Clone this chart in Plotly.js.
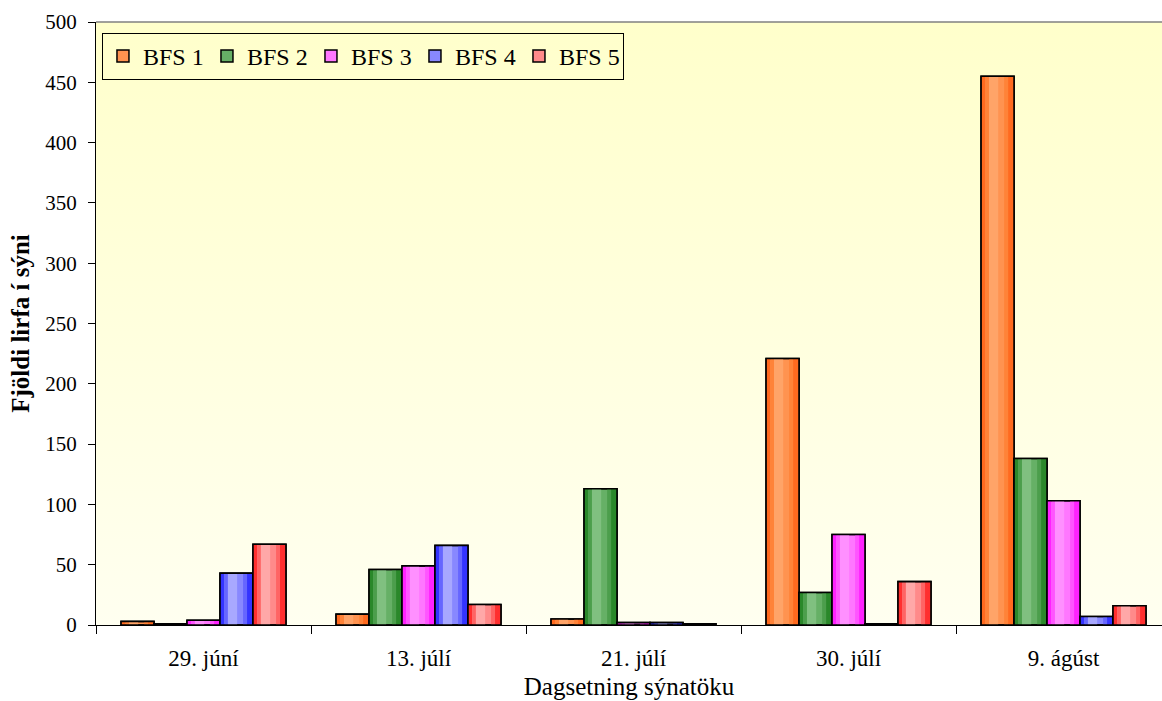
<!DOCTYPE html>
<html>
<head>
<meta charset="utf-8">
<script src="https://cdn.plot.ly/plotly-3.0.1.min.js"></script>
<style>html,body{margin:0;padding:0;background:#fff}#chart{width:1162px;height:701px}</style>
</head>
<body>
<div id="chart"></div>
<script>
// ---- data ----
const categories = ['29. júní', '13. júlí', '21. júlí', '30. júlí', '9. ágúst'];
const seriesNames = ['BFS 1', 'BFS 2', 'BFS 3', 'BFS 4', 'BFS 5'];
const bfs1 = [3, 9, 5, 221, 455];
const bfs2 = [1, 46, 113, 27, 138];
const bfs3 = [4, 49, 2, 75, 103];
const bfs4 = [43, 66, 2, 1, 7];
const bfs5 = [67, 17, 1, 36, 16];
const yTickVals = [0, 50, 100, 150, 200, 250, 300, 350, 400, 450, 500];

// ---- styles ----
const seriesValues = [bfs1, bfs2, bfs3, bfs4, bfs5];
// [dark, midDark, mid, light]
const palettes = [
  ['#FF6A1F', '#FF8338', '#FF9350', '#FFA468'],
  ['#2A882A', '#4C9E4C', '#66B066', '#80C080'],
  ['#FF22FF', '#FF55FF', '#FF77FF', '#FF90FF'],
  ['#3434FF', '#6666FF', '#8888FF', '#A8A8FF'],
  ['#FF2F2F', '#FF6464', '#FF8A8A', '#FFA8A8']
];
const gap = 0.233;
const w = (1 - gap) / 5;
// stripes: [from, to, paletteIndex]
const stripes = [
  [0.00, 0.13, 0], [0.13, 0.24, 1], [0.24, 0.52, 3],
  [0.70, 0.82, 1], [0.82, 1.00, 0]
];

const traces = [];
seriesValues.forEach((vals, i) => {
  const off = -0.5 + gap / 2 + i * w;
  traces.push({
    type: 'bar', name: seriesNames[i], x: categories, y: vals,
    offset: off, width: w,
    marker: {color: palettes[i][2], line: {color: '#000', width: 1.5}},
    showlegend: true, hoverinfo: 'skip'
  });
  stripes.forEach(s => {
    traces.push({
      type: 'bar', x: categories, y: vals,
      offset: off + s[0] * w, width: (s[1] - s[0]) * w,
      marker: {color: palettes[i][s[2]], line: {width: 0}},
      showlegend: false, hoverinfo: 'skip'
    });
  });
  traces.push({
    type: 'bar', x: categories, y: vals,
    offset: off, width: w,
    marker: {color: 'rgba(0,0,0,0)', line: {color: '#000', width: 1.6}},
    showlegend: false, hoverinfo: 'skip'
  });
});

const gradSvg = '<svg xmlns="http://www.w3.org/2000/svg" width="10" height="100" preserveAspectRatio="none">' +
  '<defs><linearGradient id="g" x1="0" y1="0" x2="0" y2="1">' +
  '<stop offset="0" stop-color="#FFFFCB"/><stop offset="1" stop-color="#FFFFF0"/>' +
  '</linearGradient></defs><rect width="10" height="100" fill="url(#g)"/></svg>';

const font = 'Liberation Serif';
const layout = {
  width: 1162, height: 701,
  margin: {l: 96, r: 0, t: 22, b: 76},
  paper_bgcolor: '#ffffff',
  plot_bgcolor: 'rgba(0,0,0,0)',
  barmode: 'overlay',
  font: {family: font, color: '#000'},
  images: [{
    source: 'data:image/svg+xml;charset=utf-8,' + encodeURIComponent(gradSvg),
    xref: 'paper', yref: 'paper', x: 0, y: 1, sizex: 1, sizey: 1,
    sizing: 'stretch', layer: 'below', xanchor: 'left', yanchor: 'top'
  }],
  xaxis: {
    type: 'category',
    range: [-0.5, 4.458],
    tickson: 'boundaries',
    ticks: 'outside', ticklen: 8, tickcolor: '#000', tickwidth: 1,
    showline: true, linecolor: '#000', linewidth: 1,
    showgrid: false, zeroline: false,
    tickfont: {family: font, size: 23, color: '#000'},
    ticklabelstandoff: 12,
    title: {text: 'Dagsetning sýnatöku', font: {family: font, size: 25, color: '#000'}, standoff: 7},
    fixedrange: true
  },
  yaxis: {
    range: [0, 500],
    tickvals: yTickVals,
    ticks: 'outside', ticklen: 7, tickcolor: '#000', tickwidth: 1,
    showline: true, linecolor: '#000', linewidth: 1,
    showgrid: false, zeroline: false,
    tickfont: {family: font, size: 21, color: '#000'},
    ticklabelstandoff: 7,
    title: {text: '<b>Fjöldi lirfa í sýni</b>', font: {family: font, size: 25, color: '#000'}, standoff: 8},
    fixedrange: true
  },
  shapes: [{
    type: 'line', xref: 'paper', yref: 'paper', x0: 0, x1: 1, y0: 1, y1: 1,
    line: {color: '#808080', width: 1.5}
  }],
  legend: {
    orientation: 'h', x: 0.0056, y: 0.982, xanchor: 'left', yanchor: 'top',
    bgcolor: 'rgba(0,0,0,0)', bordercolor: '#000', borderwidth: 1,
    font: {family: font, size: 24, color: '#000'},
    itemwidth: 30, traceorder: 'normal',
    entrywidth: 59, entrywidthmode: 'pixels'
  },
  showlegend: true
};

Plotly.newPlot('chart', traces, layout, {displayModeBar: false, staticPlot: true});
</script>
</body>
</html>
